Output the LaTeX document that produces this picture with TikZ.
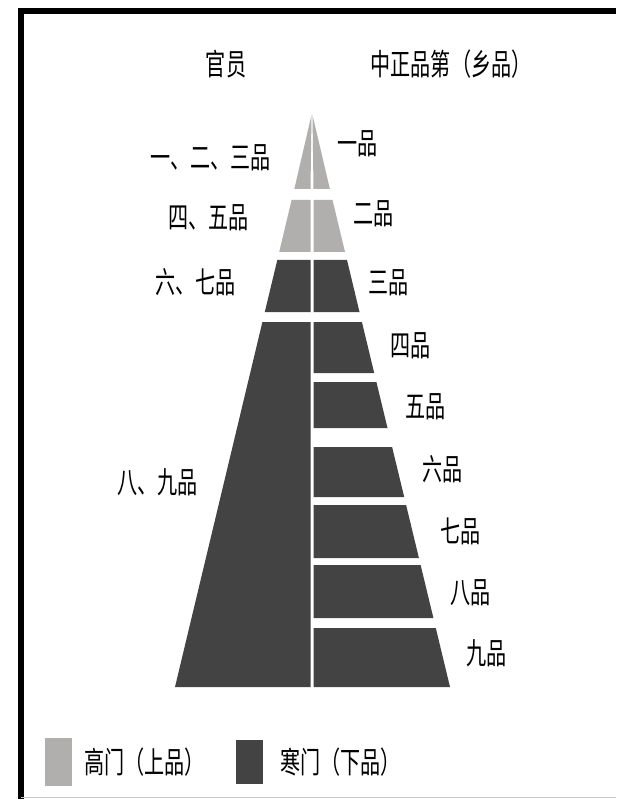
\documentclass[tikz,border=0pt]{standalone}
\usepackage{fontspec}
\usepackage{tikz}
\newfontfamily\cjk[FakeStretch=0.67]{Noto Sans CJK SC}
\definecolor{shangpin}{HTML}{B1AFAD}
\definecolor{xiapin}{HTML}{434343}

\begin{document}
\begin{tikzpicture}[x=1pt,y=-1pt,
    txt/.style={font=\cjk\fontsize{30}{30}\selectfont, inner sep=0pt},
    keybox/.style={inner sep=0pt, minimum width=27pt, minimum height=46pt}] % Pyramid
         \useasboundingbox (0,0) rectangle (616,799);
         \fill[white] (0,0) rectangle (616,799);
         \draw[line width=6.5pt] (21,799) -- (21,11) -- (616,11);
         \draw[line width=1.5pt, black!22] (21,797.5) -- (616,797.5);
         % left half
         \fill[shangpin] (311.5,115) -- (294.3,189) -- (310.5,189) -- cycle;
         \fill[shangpin] (291.6,200) -- (279.2,252) -- (310.5,252) -- (310.5,200) -- cycle;
         \fill[xiapin] (277.3,260) -- (264.8,312) -- (310.5,312) -- (310.5,260) -- cycle;
         \fill[xiapin] (262.4,322) -- (175,687) -- (310.5,687) -- (310.5,322) -- cycle;
         % right half
         \fill[shangpin] (312.5,115) -- (313.5,189) -- (329.9,189) -- cycle;
         \fill[shangpin] (313.5,200) -- (332.5,200) -- (345,252) -- (313.5,252) -- cycle;
         \fill[xiapin] (313.5,260) -- (347,260) -- (359.5,312) -- (313.5,312) -- cycle;
         \fill[xiapin] (313.5,322) -- (361.9,322) -- (374.2,373) -- (313.5,373) -- cycle;
         \fill[xiapin] (313.5,382) -- (376.4,382) -- (387.5,428) -- (313.5,428) -- cycle;
         \fill[xiapin] (313.5,447) -- (392.1,447) -- (404.2,497) -- (313.5,497) -- cycle;
         \fill[xiapin] (313.5,505) -- (406.1,505) -- (418.9,558) -- (313.5,558) -- cycle;
         \fill[xiapin] (313.5,565) -- (420.6,565) -- (433.4,618) -- (313.5,618) -- cycle;
         \fill[xiapin] (313.5,628) -- (435.8,628) -- (450,687) -- (313.5,687) -- cycle;
         % headings
         \node[txt] (guanyuan) at (226,64){官员};
         \node[txt] (pindi) at (451,64){中正品第（乡品）};
         % ranks of officials
         \node[txt, anchor=east] (guan1) at (271,158){一、二、三品};
         \node[txt, anchor=east] (guan4) at (249,218){四、五品};
         \node[txt, anchor=east] (guan6) at (236,282){六、七品};
         \node[txt, anchor=east] (guan8) at (198,482){八、九品};
         % xiangpin
         \node[txt, anchor=west] (pin1) at (337,144){一品};
         \node[txt, anchor=west] (pin2) at (353,214){二品};
         \node[txt, anchor=west] (pin3) at (368,283){三品};
         \node[txt, anchor=west] (pin4) at (390,346){四品};
         \node[txt, anchor=west] (pin5) at (405,407){五品};
         \node[txt, anchor=west] (pin6) at (422,469){六品};
         \node[txt, anchor=west] (pin7) at (440,531){七品};
         \node[txt, anchor=west] (pin8) at (450,593){八品};
         \node[txt, anchor=west] (pin9) at (466,653){九品};
         % key
         \node[keybox, fill=shangpin, minimum height=48pt] (keyup) at (58.5,762){};
         \node[txt, anchor=west] (keyuptext) at (84,762){高门（上品）};
         \node[keybox, fill=xiapin, minimum height=44pt] (keydown) at (249.5,762){};
         \node[txt, anchor=west] (keydowntext) at (280,762){寒门（下品）};
      \end{tikzpicture}
\end{document}
